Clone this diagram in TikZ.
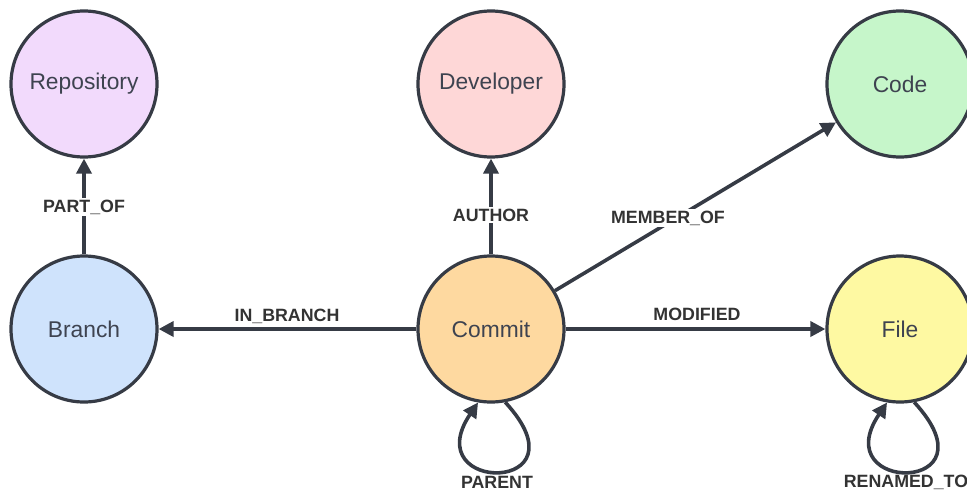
\documentclass[tikz,border=0pt]{standalone}
\usepackage{fontspec}
\setmainfont{Liberation Sans}
\usetikzlibrary{arrows.meta}
\definecolor{ink}{HTML}{363B45}
\definecolor{txt}{HTML}{3E4350}
\definecolor{lbl}{HTML}{333333}
\definecolor{fRepo}{HTML}{F2DAFC}
\definecolor{fDev}{HTML}{FED7D7}
\definecolor{fCode}{HTML}{C6F6CA}
\definecolor{fBranch}{HTML}{CFE3FC}
\definecolor{fCommit}{HTML}{FED9A0}
\definecolor{fFile}{HTML}{FEF9A2}
\tikzset{
  entity/.style={circle, draw=ink, line width=3.2pt, minimum size=146pt,
    inner sep=0pt, text=txt, font=\fontsize{22.8}{26}\selectfont},
  rel/.style={draw=ink, line width=3.6pt,
    -{Triangle[length=15pt,width=15pt]}},
  rellabel/.style={font=\bfseries\fontsize{17.8}{20}\selectfont, text=lbl,
    inner sep=2pt},
  cut/.style={rellabel, fill=white}
}
\begin{document}
\begin{tikzpicture}[x=1pt, y=-1pt]
  \useasboundingbox (0,0) rectangle (967,491);

  % entities
  \node[entity, fill=fRepo]   (repo)   at (84,84)   {Repository};
  \node[entity, fill=fDev]    (dev)    at (491,84)  {Developer};
  \node[entity, fill=fCode]   (code)   at (900,84)  {Code};
  \node[entity, fill=fBranch] (branch) at (84,329)  {Branch};
  \node[entity, fill=fCommit] (commit) at (491,329) {Commit};
  \node[entity, fill=fFile]   (file)   at (900,329) {File};

  % relationships
  \draw[rel] (branch) -- (repo);
  \draw[rel] (commit) -- (dev);
  \draw[rel] (commit) -- (code);
  \draw[rel] (commit) -- (branch);
  \draw[rel] (commit) -- (file);
  \draw[rel] (commit.-79) .. controls +(85,92) and +(-62,92) .. (commit.-100);
  \draw[rel] (file.-79) .. controls +(85,92) and +(-62,92) .. (file.-100);

  % relationship labels
  \node[cut] (lpart)   at (84,207)  {PART\_OF};
  \node[cut] (lauthor) at (491,215) {AUTHOR};
  \node[cut] (lmember) at (668,218) {MEMBER\_OF};
  \node[rellabel] (lbranch) at (287,316) {IN\_BRANCH};
  \node[rellabel] (lmod)    at (697,314) {MODIFIED};
  \node[rellabel] (lparent) at (497,482) {PARENT};
  \node[rellabel] (lrename) at (906,482) {RENAMED\_TO};
\end{tikzpicture}
\end{document}
